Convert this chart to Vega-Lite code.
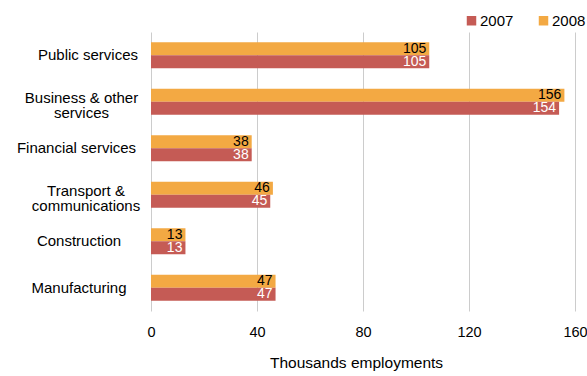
{
  "$schema": "https://vega.github.io/schema/vega-lite/v6.json",
  "width": 424,
  "height": 279,
  "autosize": {"type": "none"},
  "padding": {"left": 151, "top": 32, "right": 12, "bottom": 65},
  "config": {"font": "Liberation Sans", "view": {"stroke": null}},
  "data": {
    "values": [
      {"category": "Public services", "year": "2008", "value": 105},
      {"category": "Public services", "year": "2007", "value": 105},
      {"category": "Business & other services", "year": "2008", "value": 156},
      {"category": "Business & other services", "year": "2007", "value": 154},
      {"category": "Financial services", "year": "2008", "value": 38},
      {"category": "Financial services", "year": "2007", "value": 38},
      {"category": "Transport & communications", "year": "2008", "value": 46},
      {"category": "Transport & communications", "year": "2007", "value": 45},
      {"category": "Construction", "year": "2008", "value": 13},
      {"category": "Construction", "year": "2007", "value": 13},
      {"category": "Manufacturing", "year": "2008", "value": 47},
      {"category": "Manufacturing", "year": "2007", "value": 47}
    ]
  },
  "encoding": {
    "y": {
      "field": "category",
      "type": "nominal",
      "sort": ["Public services", "Business & other services", "Financial services", "Transport & communications", "Construction", "Manufacturing"],
      "scale": {"paddingInner": 0.44, "paddingOuter": 0.22},
      "axis": {
        "title": null,
        "ticks": false,
        "domain": false,
        "grid": false,
        "labelAlign": "center",
        "labelPadding": {
          "condition": [
            {"test": "datum.value == 'Public services'", "value": 63.5},
            {"test": "datum.value == 'Business & other services'", "value": 70},
            {"test": "datum.value == 'Financial services'", "value": 75},
            {"test": "datum.value == 'Transport & communications'", "value": 65.5}
          ],
          "value": 72.5
        },
        "labelOffset": {"condition": {"test": "indexof(datum.value, '&') >= 0", "value": -3.5}, "value": 0},
        "labelFontSize": 15,
        "labelColor": "#000",
        "labelLineHeight": 15,
        "labelExpr": "datum.value == 'Business & other services' ? ['Business & other', 'services'] : datum.value == 'Transport & communications' ? ['Transport &', 'communications'] : datum.value"
      }
    },
    "yOffset": {"field": "year", "type": "nominal", "sort": ["2008", "2007"]},
    "x": {
      "field": "value",
      "type": "quantitative",
      "scale": {"domain": [0, 160], "nice": false},
      "axis": {
        "values": [0, 40, 80, 120, 160],
        "title": "Thousands employments",
        "grid": true,
        "gridColor": "#cccccc",
        "ticks": false,
        "domain": false,
        "labelFlush": false,
        "labelOverlap": false,
        "labelPadding": 14,
        "labelFontSize": 14.5,
        "labelColor": "#000",
        "titleFontSize": 15.5,
        "titleFontWeight": "normal",
        "titleColor": "#000",
        "titlePadding": 17,
        "titleX": 205
      }
    }
  },
  "layer": [
    {
      "mark": {"type": "bar"},
      "encoding": {
        "color": {
          "field": "year",
          "type": "nominal",
          "scale": {"domain": ["2007", "2008"], "range": ["#c55b55", "#f3a943"]},
          "legend": {
            "title": null,
            "orient": "none",
            "direction": "horizontal",
            "legendX": 313,
            "legendY": -19,
            "symbolType": "square",
            "symbolSize": 90,
            "symbolStrokeWidth": 0,
            "symbolOpacity": 1,
            "labelFontSize": 15,
            "labelColor": "#000",
            "labelOffset": 1,
            "columnPadding": 22
          }
        }
      }
    },
    {
      "mark": {"type": "text", "align": "right", "dx": -3, "baseline": "middle", "fontSize": 14},
      "encoding": {
        "text": {"field": "value", "type": "quantitative"},
        "color": {"condition": {"test": "datum.year == '2008'", "value": "#000000"}, "value": "#ffffff"}
      }
    }
  ]
}
